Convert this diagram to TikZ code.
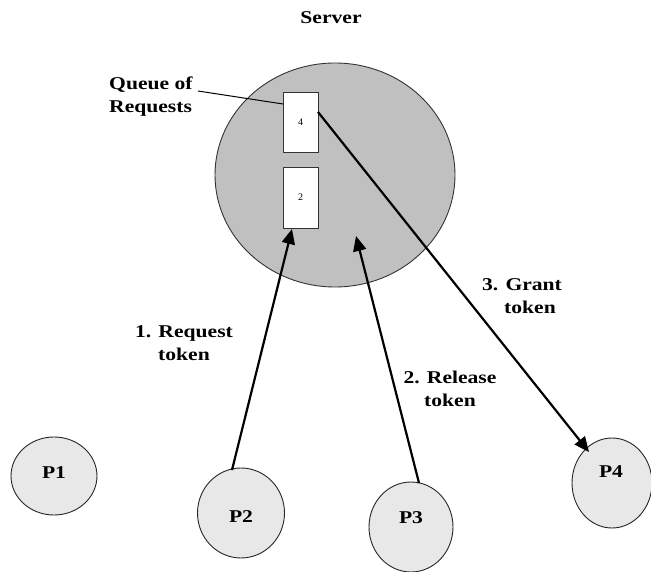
\documentclass[tikz,border=0pt]{standalone}
\usepackage{fontspec}
\setmainfont{Liberation Serif}
\newfontfamily\lblfont[FakeStretch=1.2]{Liberation Serif}
\usetikzlibrary{arrows.meta,shapes.geometric}
\definecolor{servergray}{RGB}{192,192,192}
\definecolor{procgray}{RGB}{232,232,232}
\begin{document}
\begin{tikzpicture}[x=1pt,y=-1pt,
  lbl/.style={font=\lblfont\bfseries\fontsize{18}{23}\selectfont, align=center, inner sep=0pt},
  proc/.style={ellipse, draw=black!85, line width=0.9pt, fill=procgray, inner sep=0pt},
  ptext/.style={font=\lblfont\bfseries\fontsize{18}{22}\selectfont, inner sep=0pt},
  qbox/.style={draw=black!80, line width=0.9pt, fill=white, minimum width=35pt, minimum height=60pt, inner sep=0pt, font=\fontsize{10}{12}\selectfont},
  msg/.style={line width=2.2pt, -{Triangle[length=15pt,width=13pt]}}]
\useasboundingbox (0,0) rectangle (651,572);
% server
\node[ellipse, draw=black!80, line width=0.9pt, fill=servergray, minimum width=240pt, minimum height=224pt] (server) at (335,175) {};
\node[lbl] (servertitle) at (331,18) {Server};
\node[qbox] (q4) at (300.5,122) {4};
\node[qbox, minimum height=61pt] (q2) at (300.5,197.5) {2};
\node[lbl, anchor=west, align=left] (queue) at (109,97) {Queue of\\Requests};
\coordinate (qend) at (198,91);
\draw[line width=1pt] (qend) -- (283,104);
% processes
\node[proc, minimum width=86pt, minimum height=78pt] (P1) at (54,476) {};
\node[proc, minimum width=87pt, minimum height=90pt] (P2) at (241,513) {};
\node[proc, minimum width=84pt, minimum height=90pt] (P3) at (411,527) {};
\node[proc, minimum width=80pt, minimum height=90pt] (P4) at (612,483) {};
\node[ptext] (t1) at (54,473) {P1};
\node[ptext] (t2) at (241,517) {P2};
\node[ptext] (t3) at (411,518) {P3};
\node[ptext] (t4) at (611,472) {P4};
% arrows
\coordinate (a1s) at (232,470);
\coordinate (a1e) at (292,229);
\draw[msg] (a1s) -- (a1e);
\coordinate (a2s) at (419,483);
\coordinate (a2e) at (356,236);
\draw[msg] (a2s) -- (a2e);
\coordinate (a3s) at (318,112);
\coordinate (a3e) at (589,452);
\draw[msg] (a3s) -- (a3e);
% labels
\node[lbl] (l1) at (184,343) {1. Request\\token};
\node[lbl] (l2) at (450,389) {2. Release\\token};
\node[lbl] (l3) at (522,296) {3. Grant\\\hspace*{16pt}token};
\end{tikzpicture}
\end{document}
